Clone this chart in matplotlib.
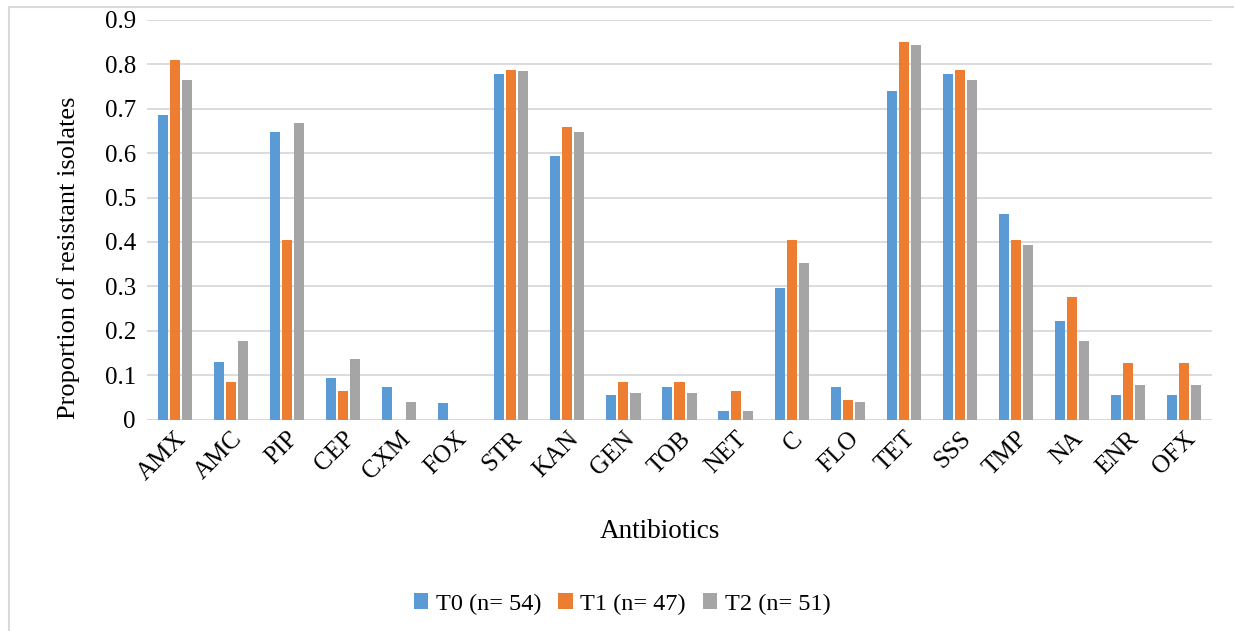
import numpy as np
import matplotlib
matplotlib.use("Agg")
import matplotlib.pyplot as plt
from matplotlib import patches as pat

plt.rcParams['font.family'] = ['Liberation Serif', 'DejaVu Serif']

antibiotics = ["AMX", "AMC", "PIP", "CEP", "CXM", "FOX", "STR", "KAN", "GEN", "TOB",
               "NET", "C", "FLO", "TET", "SSS", "TMP", "NA", "ENR", "OFX"]

t0 = [0.685, 0.130, 0.648, 0.093, 0.074, 0.037, 0.778, 0.593, 0.056, 0.074,
      0.019, 0.296, 0.074, 0.741, 0.778, 0.463, 0.222, 0.056, 0.056]
t1 = [0.809, 0.085, 0.404, 0.064, 0.0, 0.0, 0.787, 0.660, 0.085, 0.085,
      0.064, 0.404, 0.043, 0.851, 0.787, 0.404, 0.277, 0.128, 0.128]
t2 = [0.765, 0.176, 0.667, 0.137, 0.039, 0.0, 0.784, 0.647, 0.059, 0.059,
      0.020, 0.353, 0.039, 0.843, 0.765, 0.392, 0.176, 0.078, 0.078]

series = [("T0 (n= 54)", t0, "#5b9bd5"),
          ("T1 (n= 47)", t1, "#ed7d31"),
          ("T2 (n= 51)", t2, "#a5a5a5")]

W, H = 1234, 631
fig = plt.figure(figsize=(W/100, H/100), dpi=100)
ax = fig.add_axes([147/W, 1-419.5/H, (1212-147)/W, (419.5-20)/H])

x = np.arange(len(antibiotics))
bw = 0.18
step = 0.215
for i, (lab, vals, col) in enumerate(series):
    ax.bar(x + (i-1)*step, vals, width=bw, color=col, label=lab, zorder=3)

ax.set_xlim(-0.5, len(antibiotics)-0.5)
ax.set_ylim(0, 0.9)
ax.set_yticks(np.arange(0, 0.91, 0.1))
ax.set_yticklabels(["0"] + ["%.1f" % v for v in np.arange(0.1, 0.91, 0.1)])
ax.yaxis.grid(True, color="#d9d9d9", lw=1.3, zorder=0)
for s in ax.spines.values():
    s.set_visible(False)
ax.axhline(0, color="#d9d9d9", lw=1.5, zorder=2)
ax.tick_params(axis="both", length=0, labelsize=18)
ax.tick_params(axis="y", pad=8)
ax.set_xticks(x)
ax.set_xticklabels(antibiotics, rotation=45, ha="right", rotation_mode="anchor")
ax.tick_params(axis="x", pad=6)

ax.set_ylabel("Proportion of resistant isolates", fontsize=19)
ax.yaxis.set_label_coords(-0.063, 0.405)
fig.text(660/W, 1-531/H, "Antibiotics", fontsize=19.5, ha="center", va="center")

fig.legend(loc="center", bbox_to_anchor=(622/W, 1-604/H), ncol=3, frameon=False,
           fontsize=17.5, handlelength=0.6, handleheight=0.6, handletextpad=0.3,
           columnspacing=0.7)

rect = pat.Rectangle((9/W, -0.1), 1.2, 1-7/H+0.1, transform=fig.transFigure,
                     fill=False, edgecolor="#d9d9d9", lw=1.5)
fig.patches.append(rect)

plt.savefig("out.png", dpi=100)
